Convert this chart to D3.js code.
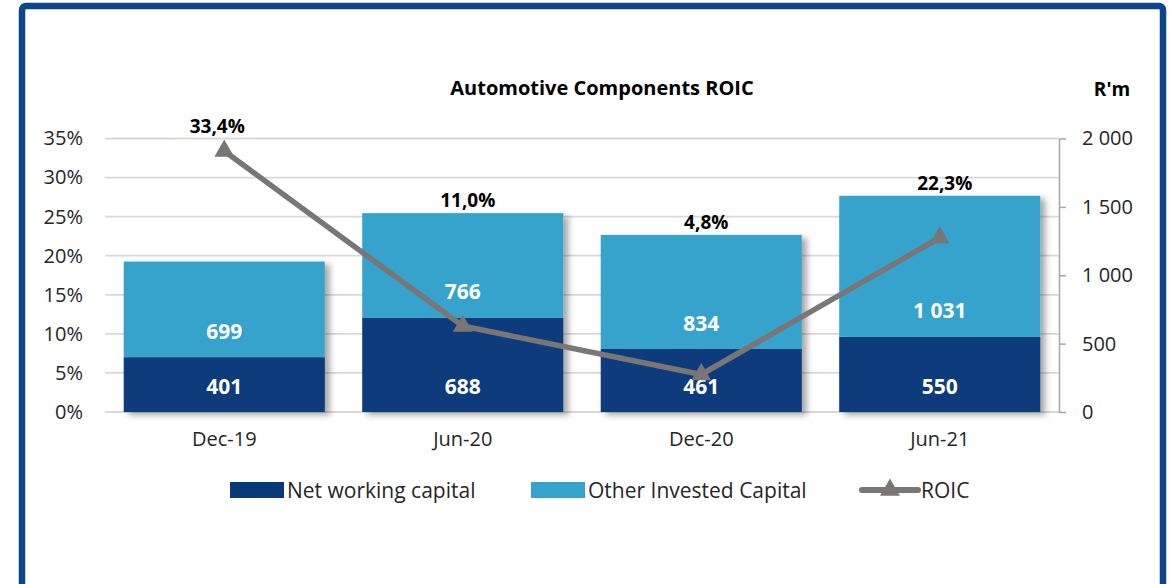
<!DOCTYPE html>
<html>
<head>
<meta charset="utf-8">
<script src="https://cdn.jsdelivr.net/npm/d3@7"></script>
<style>
  body { margin: 0; background: #fff; }
  svg { display: block; font-family: "Open Sans", sans-serif; }
</style>
</head>
<body>
<script>
// datos del grafico
var categorias = ["Dec-19", "Jun-20", "Dec-20", "Jun-21"];
var capitalTrabajo = [401, 688, 461, 550];
var otroCapital = [699, 766, 834, 1031];
var roic = [0.334, 0.110, 0.048, 0.223];
var etiquetasRoic = ["33,4%", "11,0%", "4,8%", "22,3%"];
var ticksIzq = [0, 0.05, 0.10, 0.15, 0.20, 0.25, 0.30, 0.35];
var etiquetasIzq = ["0%", "5%", "10%", "15%", "20%", "25%", "30%", "35%"];
var ticksDer = [0, 500, 1000, 1500, 2000];
var etiquetasDer = ["0", "500", "1 000", "1 500", "2 000"];
var series = ["Net working capital", "Other Invested Capital", "ROIC"];

var width = 1169;
var height = 584;

var colorOscuro = "#083A7B";
var colorClaro = "#35A3CB";
var colorLinea = "#7A7676";

var margen = { izquierda: 105, derecha: 1059, arriba: 138.5, abajo: 412 };

var svg = d3.select("body").append("svg")
    .attr("width", width)
    .attr("height", height);

// sombra de las barras
var defs = svg.append("defs");
var filtro = defs.append("filter").attr("id", "sombra")
    .attr("x", "-10%").attr("y", "-10%").attr("width", "130%").attr("height", "130%");
filtro.append("feDropShadow")
    .attr("dx", 5).attr("dy", 3).attr("stdDeviation", 3)
    .attr("flood-color", "#000").attr("flood-opacity", 0.35);

// marco
svg.append("rect")
    .attr("x", 22).attr("y", 6)
    .attr("width", 1141).attr("height", 700)
    .attr("rx", 4)
    .attr("fill", "none")
    .attr("stroke", "#0B4787")
    .attr("stroke-width", 6.5);

var escalaX = d3.scaleBand()
    .domain(categorias)
    .range([margen.izquierda, margen.derecha])
    .paddingInner(0.157)
    .paddingOuter(0.0785);

var escalaIzq = d3.scaleLinear()
    .domain([0, 0.35])
    .range([margen.abajo, margen.arriba]);

var escalaDer = d3.scaleLinear()
    .domain([0, 2000])
    .range([margen.abajo, margen.arriba]);

// lineas de cuadricula
svg.append("g").selectAll("line")
    .data(ticksIzq)
    .join("line")
    .attr("x1", margen.izquierda)
    .attr("x2", margen.derecha)
    .attr("y1", d => escalaIzq(d))
    .attr("y2", d => escalaIzq(d))
    .attr("stroke", "#D9D9D9")
    .attr("stroke-width", 1.8);

// eje izquierdo
var ejeIzq = d3.axisLeft(escalaIzq)
    .tickValues(ticksIzq)
    .tickFormat((d, i) => etiquetasIzq[i])
    .tickSize(0)
    .tickPadding(22);
var gIzq = svg.append("g")
    .attr("transform", "translate(" + margen.izquierda + ",0)")
    .call(ejeIzq);
gIzq.select(".domain").remove();
gIzq.selectAll("text")
    .style("font-family", "'Open Sans', sans-serif")
    .style("font-size", "20px")
    .attr("fill", "#262626");

// eje derecho
var ejeDer = d3.axisRight(escalaDer)
    .tickValues(ticksDer)
    .tickFormat((d, i) => etiquetasDer[i])
    .tickSizeInner(7)
    .tickSizeOuter(0)
    .tickPadding(16);
var gDer = svg.append("g")
    .attr("transform", "translate(" + margen.derecha + ",0)")
    .call(ejeDer);
gDer.select(".domain").attr("stroke", "#A6A6A6").attr("stroke-width", 1.5);
gDer.selectAll(".tick line").attr("stroke", "#A6A6A6").attr("stroke-width", 1.5);
gDer.selectAll("text")
    .style("font-family", "'Open Sans', sans-serif")
    .style("font-size", "20px")
    .attr("fill", "#262626");

// eje X (solo etiquetas)
var ejeX = d3.axisBottom(escalaX).tickSize(0).tickPadding(20);
var gX = svg.append("g")
    .attr("transform", "translate(0," + margen.abajo + ")")
    .call(ejeX);
gX.select(".domain").remove();
gX.selectAll("text")
    .style("font-family", "'Open Sans', sans-serif")
    .style("font-size", "20px")
    .attr("fill", "#262626");

// barras apiladas
var datos = categorias.map((c, i) => ({
    cat: c,
    nwc: capitalTrabajo[i],
    otro: otroCapital[i],
    roic: roic[i],
    etiqueta: etiquetasRoic[i]
}));

var grupos = svg.append("g").selectAll("g")
    .data(datos)
    .join("g")
    .attr("filter", "url(#sombra)");

grupos.append("rect")
    .attr("x", d => escalaX(d.cat))
    .attr("width", escalaX.bandwidth())
    .attr("y", d => escalaDer(d.nwc))
    .attr("height", d => escalaDer(0) - escalaDer(d.nwc))
    .attr("fill", colorOscuro);

grupos.append("rect")
    .attr("x", d => escalaX(d.cat))
    .attr("width", escalaX.bandwidth())
    .attr("y", d => escalaDer(d.nwc + d.otro))
    .attr("height", d => escalaDer(d.nwc) - escalaDer(d.nwc + d.otro))
    .attr("fill", colorClaro);

// etiquetas dentro de las barras
var etiquetas = svg.append("g")
    .style("font-family", "'Open Sans', sans-serif")
    .style("font-size", "21px")
    .style("font-weight", "bold")
    .attr("fill", "#fff")
    .attr("text-anchor", "middle");

etiquetas.selectAll(".lbl-nwc")
    .data(datos)
    .join("text")
    .attr("class", "lbl-nwc")
    .attr("x", d => escalaX(d.cat) + escalaX.bandwidth() / 2)
    .attr("y", d => escalaDer(0) - 26)
    .attr("dy", "0.36em")
    .text(d => d3.format(",")(d.nwc).replace(/,/g, " "));

etiquetas.selectAll(".lbl-otro")
    .data(datos)
    .join("text")
    .attr("class", "lbl-otro")
    .attr("x", d => escalaX(d.cat) + escalaX.bandwidth() / 2)
    .attr("y", d => escalaDer(d.nwc) - 26)
    .attr("dy", "0.36em")
    .text(d => d3.format(",")(d.otro).replace(/,/g, " "));

// linea ROIC
var centroX = d => escalaX(d.cat) + escalaX.bandwidth() / 2;
var linea = d3.line()
    .x(centroX)
    .y(d => escalaIzq(d.roic));

svg.append("path")
    .datum(datos)
    .attr("d", linea)
    .attr("fill", "none")
    .attr("stroke", colorLinea)
    .attr("stroke-width", 5.5)
    .attr("stroke-linejoin", "round");

var triangulo = d3.symbol().type(d3.symbolTriangle).size(170);
svg.append("g").selectAll("path")
    .data(datos)
    .join("path")
    .attr("d", triangulo)
    .attr("transform", d => "translate(" + centroX(d) + "," + escalaIzq(d.roic) + ")")
    .attr("fill", colorLinea);

// etiquetas ROIC
svg.append("g").selectAll("text")
    .data(datos)
    .join("text")
    .attr("x", d => centroX(d) + (d.cat === "Dec-19" ? -7 : 5))
    .attr("y", d => Math.min(escalaDer(d.nwc + d.otro), escalaIzq(d.roic) - 12) - 13)
    .attr("dy", "0.36em")
    .attr("text-anchor", "middle")
    .style("font-size", "19px")
    .style("font-weight", "bold")
    .attr("fill", "#000")
    .text(d => d.etiqueta);

// titulo
svg.append("text")
    .attr("x", 602)
    .attr("y", 88)
    .attr("dy", "0.36em")
    .attr("text-anchor", "middle")
    .style("font-size", "20px")
    .style("font-weight", "bold")
    .attr("fill", "#000")
    .text("Automotive Components ROIC");

svg.append("text")
    .attr("x", 1112)
    .attr("y", 89)
    .attr("dy", "0.36em")
    .attr("text-anchor", "middle")
    .style("font-size", "19px")
    .style("font-weight", "bold")
    .attr("fill", "#000")
    .text("R'm");

// leyenda
var leyendaX = [230, 531, 862];
var leyendaY = 490;
var leyenda = svg.append("g");

leyenda.selectAll("rect")
    .data([colorOscuro, colorClaro])
    .join("rect")
    .attr("x", (d, i) => leyendaX[i])
    .attr("y", leyendaY - 8)
    .attr("width", 54)
    .attr("height", 16)
    .attr("fill", d => d);

leyenda.append("line")
    .attr("x1", leyendaX[2]).attr("x2", leyendaX[2] + 56)
    .attr("y1", leyendaY).attr("y2", leyendaY)
    .attr("stroke", colorLinea)
    .attr("stroke-width", 6)
    .attr("stroke-linecap", "round");
leyenda.append("path")
    .attr("d", triangulo)
    .attr("transform", "translate(" + (leyendaX[2] + 28) + "," + leyendaY + ")")
    .attr("fill", colorLinea);

leyenda.selectAll("text")
    .data(series)
    .join("text")
    .attr("x", (d, i) => leyendaX[i] + (i === 2 ? 59 : 57))
    .attr("y", leyendaY)
    .attr("dy", "0.36em")
    .style("font-size", "21px")
    .attr("fill", "#262626")
    .text(d => d);
</script>
</body>
</html>
